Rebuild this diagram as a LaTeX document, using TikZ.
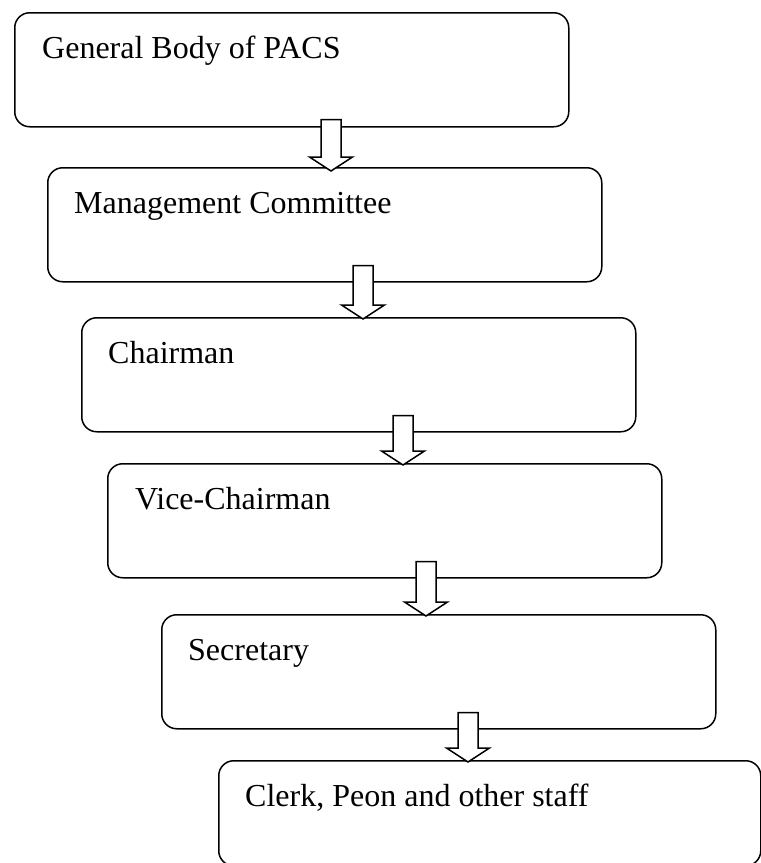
\documentclass[tikz,border=0pt]{standalone}
\usepackage{fontspec}
\setmainfont{Liberation Serif}
\usetikzlibrary{calc}
\tikzset{
  orgbox/.style={draw=black, line width=1.5pt, rounded corners=15pt, minimum width=554pt, minimum height=114pt, inner sep=0pt, anchor=north west},
  orglabel/.style={anchor=base west, inner sep=0pt, font=\fontsize{32}{38}\selectfont},
  arrowline/.style={draw=black, fill=white, line width=1.5pt, line join=miter}
}
\newcommand{\blkarrow}[2]{%
  \draw[arrowline] let \p1=(#1), \p2=(#2) in
    (\x1-10pt,\y1) -- (\x1+10pt,\y1) -- (\x1+10pt,\y2+14pt) -- (\x1+21.5pt,\y2+14pt)
    -- (\x1,\y2) -- (\x1-21.5pt,\y2+14pt) -- (\x1-10pt,\y2+14pt) -- cycle;}
\begin{document}
\begin{tikzpicture}[x=1pt,y=-1pt]
\clip (0,0) rectangle (761,863);
\fill[white] (0,0) rectangle (761,863);
\node[orgbox] (b1) at (14,12) {};
\node[orgbox] (b2) at (47,167) {};
\node[orgbox] (b3) at (81,317) {};
\node[orgbox] (b4) at (107,463) {};
\node[orgbox] (b5) at (161,614) {};
\node[orgbox, minimum width=542pt, minimum height=105pt] (b6) at (218,760) {};
\node[orglabel] (t1) at ($(b1.north west)+(28,46)$) {General Body of PACS};
\node[orglabel] (t2) at ($(b2.north west)+(27,46)$) {Management Committee};
\node[orglabel] (t3) at ($(b3.north west)+(27,46)$) {Chairman};
\node[orglabel] (t4) at ($(b4.north west)+(28,46)$) {Vice-Chairman};
\node[orglabel] (t5) at ($(b5.north west)+(27,46)$) {Secretary};
\node[orglabel] (t6) at ($(b6.north west)+(27,46)$) {Clerk, Peon and other staff};
\coordinate (a1s) at ($(b1.south west)+(317,-8)$);
\coordinate (a1e) at ($(b2.north west)+(284,4)$);
\coordinate (a2s) at ($(b2.south west)+(316,-17)$);
\coordinate (a2e) at ($(b3.north west)+(282,2)$);
\coordinate (a3s) at ($(b3.south west)+(322,-17)$);
\coordinate (a3e) at ($(b4.north west)+(296,2)$);
\coordinate (a4s) at ($(b4.south west)+(319,-17)$);
\coordinate (a4e) at ($(b5.north west)+(265,2)$);
\coordinate (a5s) at ($(b5.south west)+(307,-17)$);
\coordinate (a5e) at ($(b6.north west)+(250,2)$);
\blkarrow{a1s}{a1e}
\blkarrow{a2s}{a2e}
\blkarrow{a3s}{a3e}
\blkarrow{a4s}{a4e}
\blkarrow{a5s}{a5e}
\end{tikzpicture}
\end{document}
